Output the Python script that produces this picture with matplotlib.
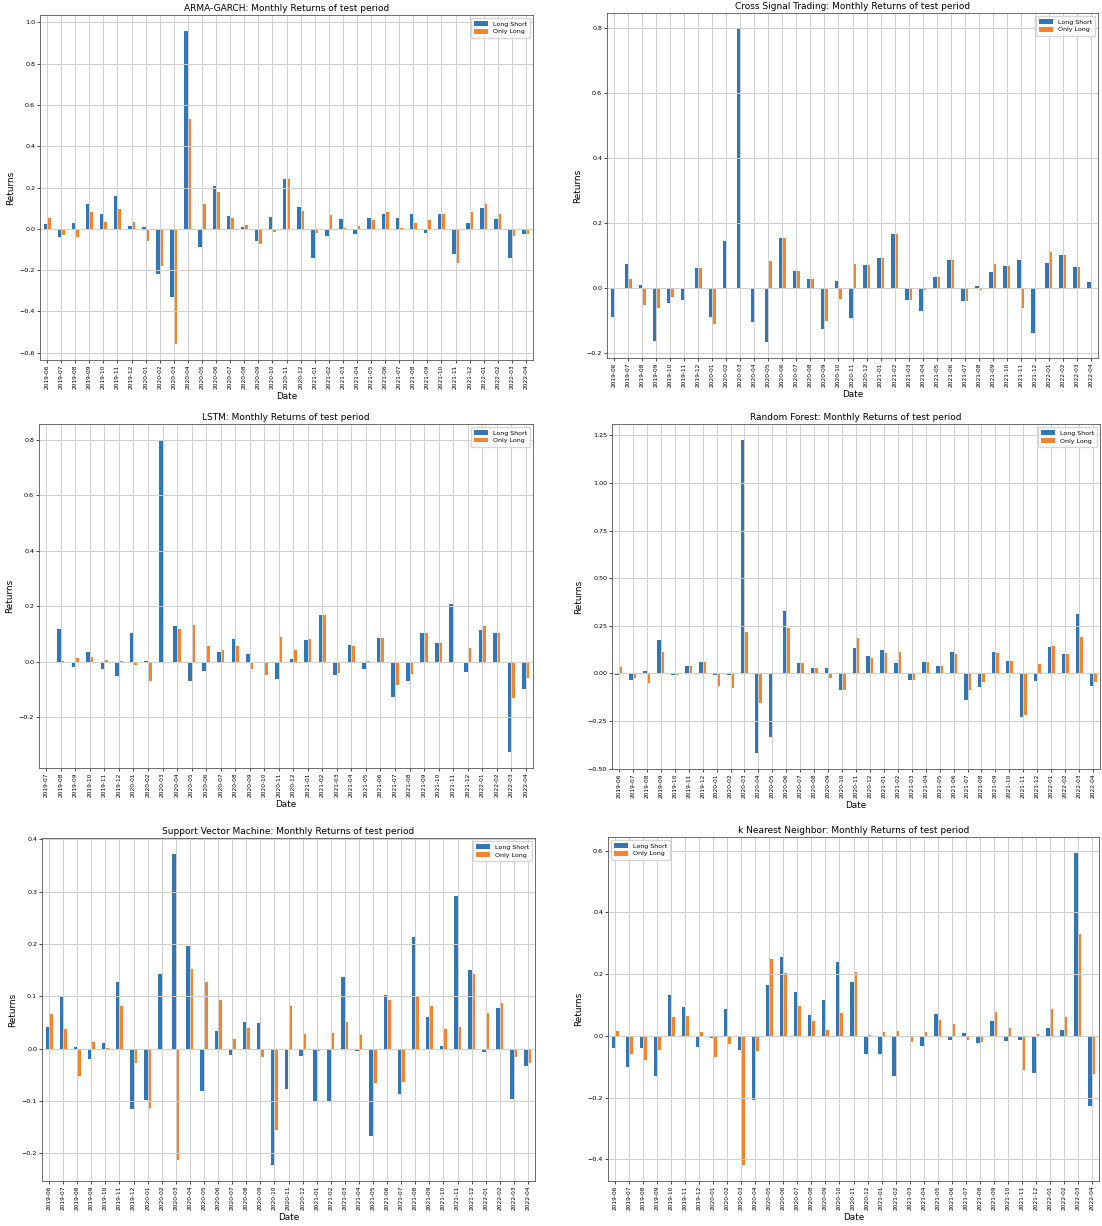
import numpy as np
import pandas as pd
import matplotlib
matplotlib.use('Agg')
import matplotlib.pyplot as plt

# month labels of the test period
months = list(pd.period_range('2019-06', '2022-04', freq='M').strftime('%Y-%m'))
months_lstm = months[1:]

# ARMA-GARCH
arma_ls = [0.023, -0.04, 0.03, 0.12, 0.072, 0.158, 0.013, 0.01, -0.22, -0.33, 0.96, -0.09,
           0.205, 0.06, 0.01, -0.06, 0.055, 0.242, 0.106, -0.14, -0.035, 0.047, -0.025, 0.05,
           0.072, 0.05, 0.072, -0.02, 0.072, -0.12, 0.03, 0.1, 0.045, -0.14, -0.025]
arma_ol = [0.05, -0.03, -0.04, 0.08, 0.033, 0.097, 0.035, -0.06, -0.18, -0.56, 0.53, 0.12,
           0.177, 0.053, 0.018, -0.072, -0.015, 0.242, 0.087, -0.02, 0.065, 0.005, 0.012, 0.042,
           0.08, 0.005, 0.027, 0.042, 0.07, -0.165, 0.08, 0.122, 0.072, -0.037, -0.025]

# Cross Signal Trading
cross_ls = [-0.088, 0.073, 0.01, -0.163, -0.047, -0.038, 0.06, -0.09, 0.144, 0.797, -0.104, -0.167,
            0.153, 0.052, 0.027, -0.125, 0.022, -0.091, 0.071, 0.091, 0.166, -0.036, -0.07, 0.034,
            0.085, -0.04, 0.005, 0.05, 0.068, 0.085, -0.138, 0.077, 0.1, 0.066, 0.018]
cross_ol = [0.0, 0.027, -0.052, -0.06, -0.028, 0.0, 0.06, -0.11, 0.0, 0.0, 0.0, 0.083,
            0.153, 0.052, 0.027, -0.103, -0.034, 0.074, 0.071, 0.091, 0.166, -0.036, -0.007, 0.034,
            0.085, -0.04, -0.007, 0.075, 0.068, -0.062, 0.0, 0.111, 0.1, 0.066, -0.003]

# LSTM (starts 2019-07)
lstm_ls = [0.0, 0.117, -0.018, 0.035, -0.025, -0.053, 0.103, 0.002, 0.8, 0.128, -0.07, -0.035,
           0.033, 0.083, 0.028, -0.003, -0.063, 0.01, 0.078, 0.167, -0.047, 0.06, -0.028, 0.085,
           -0.127, -0.07, 0.103, 0.067, 0.208, -0.038, 0.113, 0.102, -0.327, -0.1]
lstm_ol = [0.0, 0.002, 0.012, 0.015, 0.005, 0.002, -0.013, -0.07, 0.0, 0.117, 0.133, 0.057,
           0.042, 0.056, -0.027, -0.047, 0.087, 0.042, 0.082, 0.167, -0.04, 0.057, 0.002, 0.085,
           -0.083, -0.043, 0.103, 0.067, 0.0, 0.05, 0.128, 0.102, -0.13, -0.06]

# Random Forest
rf_ls = [-0.01, -0.035, 0.013, 0.177, -0.008, 0.037, 0.06, -0.008, -0.01, 1.227, -0.42, -0.333,
         0.327, 0.053, 0.027, 0.027, -0.085, 0.133, 0.093, 0.12, 0.053, -0.033, 0.057, 0.036,
         0.11, -0.14, -0.07, 0.113, 0.066, -0.23, -0.038, 0.136, 0.1, 0.313, -0.065]
rf_ol = [0.033, -0.025, -0.05, 0.11, -0.008, 0.037, 0.06, -0.065, -0.077, 0.218, -0.157, 0.0,
         0.24, 0.053, 0.027, -0.027, -0.085, 0.185, 0.082, 0.106, 0.11, -0.033, 0.057, 0.036,
         0.1, -0.09, -0.043, 0.108, 0.066, -0.22, 0.048, 0.144, 0.1, 0.19, -0.045]

# Support Vector Machine
svm_ls = [0.042, 0.098, 0.004, -0.019, 0.011, 0.127, -0.116, -0.098, 0.142, 0.373, 0.197, -0.08,
          0.033, -0.012, 0.052, 0.05, -0.223, -0.077, -0.013, -0.102, -0.102, 0.138, -0.005, -0.167,
          0.103, -0.087, 0.214, 0.061, 0.006, 0.291, 0.15, -0.007, 0.078, -0.097, -0.033]
svm_ol = [0.067, 0.038, -0.053, 0.012, 0.001, 0.082, -0.027, -0.113, 0.0, -0.213, 0.152, 0.127,
          0.093, 0.019, 0.04, -0.015, -0.155, 0.081, 0.029, -0.005, 0.031, 0.051, 0.027, -0.066,
          0.094, -0.063, 0.098, 0.081, 0.037, 0.042, 0.143, 0.069, 0.088, -0.015, -0.028]

# k Nearest Neighbor
knn_ls = [-0.038, -0.1, -0.04, -0.13, 0.131, 0.095, -0.036, -0.008, 0.086, -0.045, -0.207, 0.166,
          0.255, 0.142, 0.067, 0.117, 0.238, 0.173, -0.058, -0.06, -0.13, -0.005, -0.032, 0.07,
          -0.013, 0.008, -0.022, 0.049, -0.016, -0.013, -0.12, 0.027, 0.018, 0.594, -0.227]
knn_ol = [0.017, -0.058, -0.078, -0.045, 0.062, 0.065, 0.012, -0.068, -0.028, -0.42, -0.05, 0.25,
          0.203, 0.097, 0.047, 0.018, 0.074, 0.206, 0.003, 0.014, 0.016, -0.02, 0.013, 0.051,
          0.037, -0.015, -0.02, 0.076, 0.025, -0.11, 0.007, 0.087, 0.06, 0.33, -0.125]

panels = [
    ('ARMA-GARCH', months, arma_ls, arma_ol, 'upper right'),
    ('Cross Signal Trading', months, cross_ls, cross_ol, 'upper right'),
    ('LSTM', months_lstm, lstm_ls, lstm_ol, 'upper right'),
    ('Random Forest', months, rf_ls, rf_ol, 'upper right'),
    ('Support Vector Machine', months, svm_ls, svm_ol, 'upper right'),
    ('k Nearest Neighbor', months, knn_ls, knn_ol, 'upper left'),
]

W, H = 1102, 1226
# axes boxes in pixels: left, top, right, bottom
boxes = [
    (40, 15, 533, 360),
    (607, 13, 1098, 358),
    (39, 424, 533, 768),
    (612, 424, 1100, 769),
    (42, 838, 535, 1181),
    (608, 837, 1099, 1181),
]

fig = plt.figure(figsize=(W / 100, H / 100), dpi=100)

for (name, labels, ls, ol, loc), (l, t, r, b) in zip(panels, boxes):
    ax = fig.add_axes([l / W, 1 - b / H, (r - l) / W, (b - t) / H])
    x = np.arange(len(labels))
    ax.bar(x - 0.125, ls, 0.25, color='#2f78b5', label='Long Short')
    ax.bar(x + 0.125, ol, 0.25, color='#f7842a', label='Only Long')
    ax.set_xlim(-0.5, len(labels) - 0.5)
    ax.set_xticks(x)
    ax.set_xticklabels(labels, rotation=90)
    ax.tick_params(axis='y', labelsize=4.6, length=2, width=0.5, pad=1.5)
    ax.tick_params(axis='x', labelsize=4.2, length=2, width=0.5, pad=1.5)
    ax.grid(True, color='#cfcfcf', linewidth=0.7)
    for s in ax.spines.values():
        s.set_linewidth(0.6)
        s.set_color('#555555')
    ax.set_title(name + ': Monthly Returns of test period', fontsize=6.5, pad=3)
    ax.set_xlabel('Date', fontsize=6.4, labelpad=2)
    ax.set_ylabel('Returns', fontsize=6.4, labelpad=3)
    ax.legend(loc=loc, fontsize=4.5, handlelength=2.2, borderpad=0.5, labelspacing=0.4)

fig.savefig('out.png', dpi=100)
